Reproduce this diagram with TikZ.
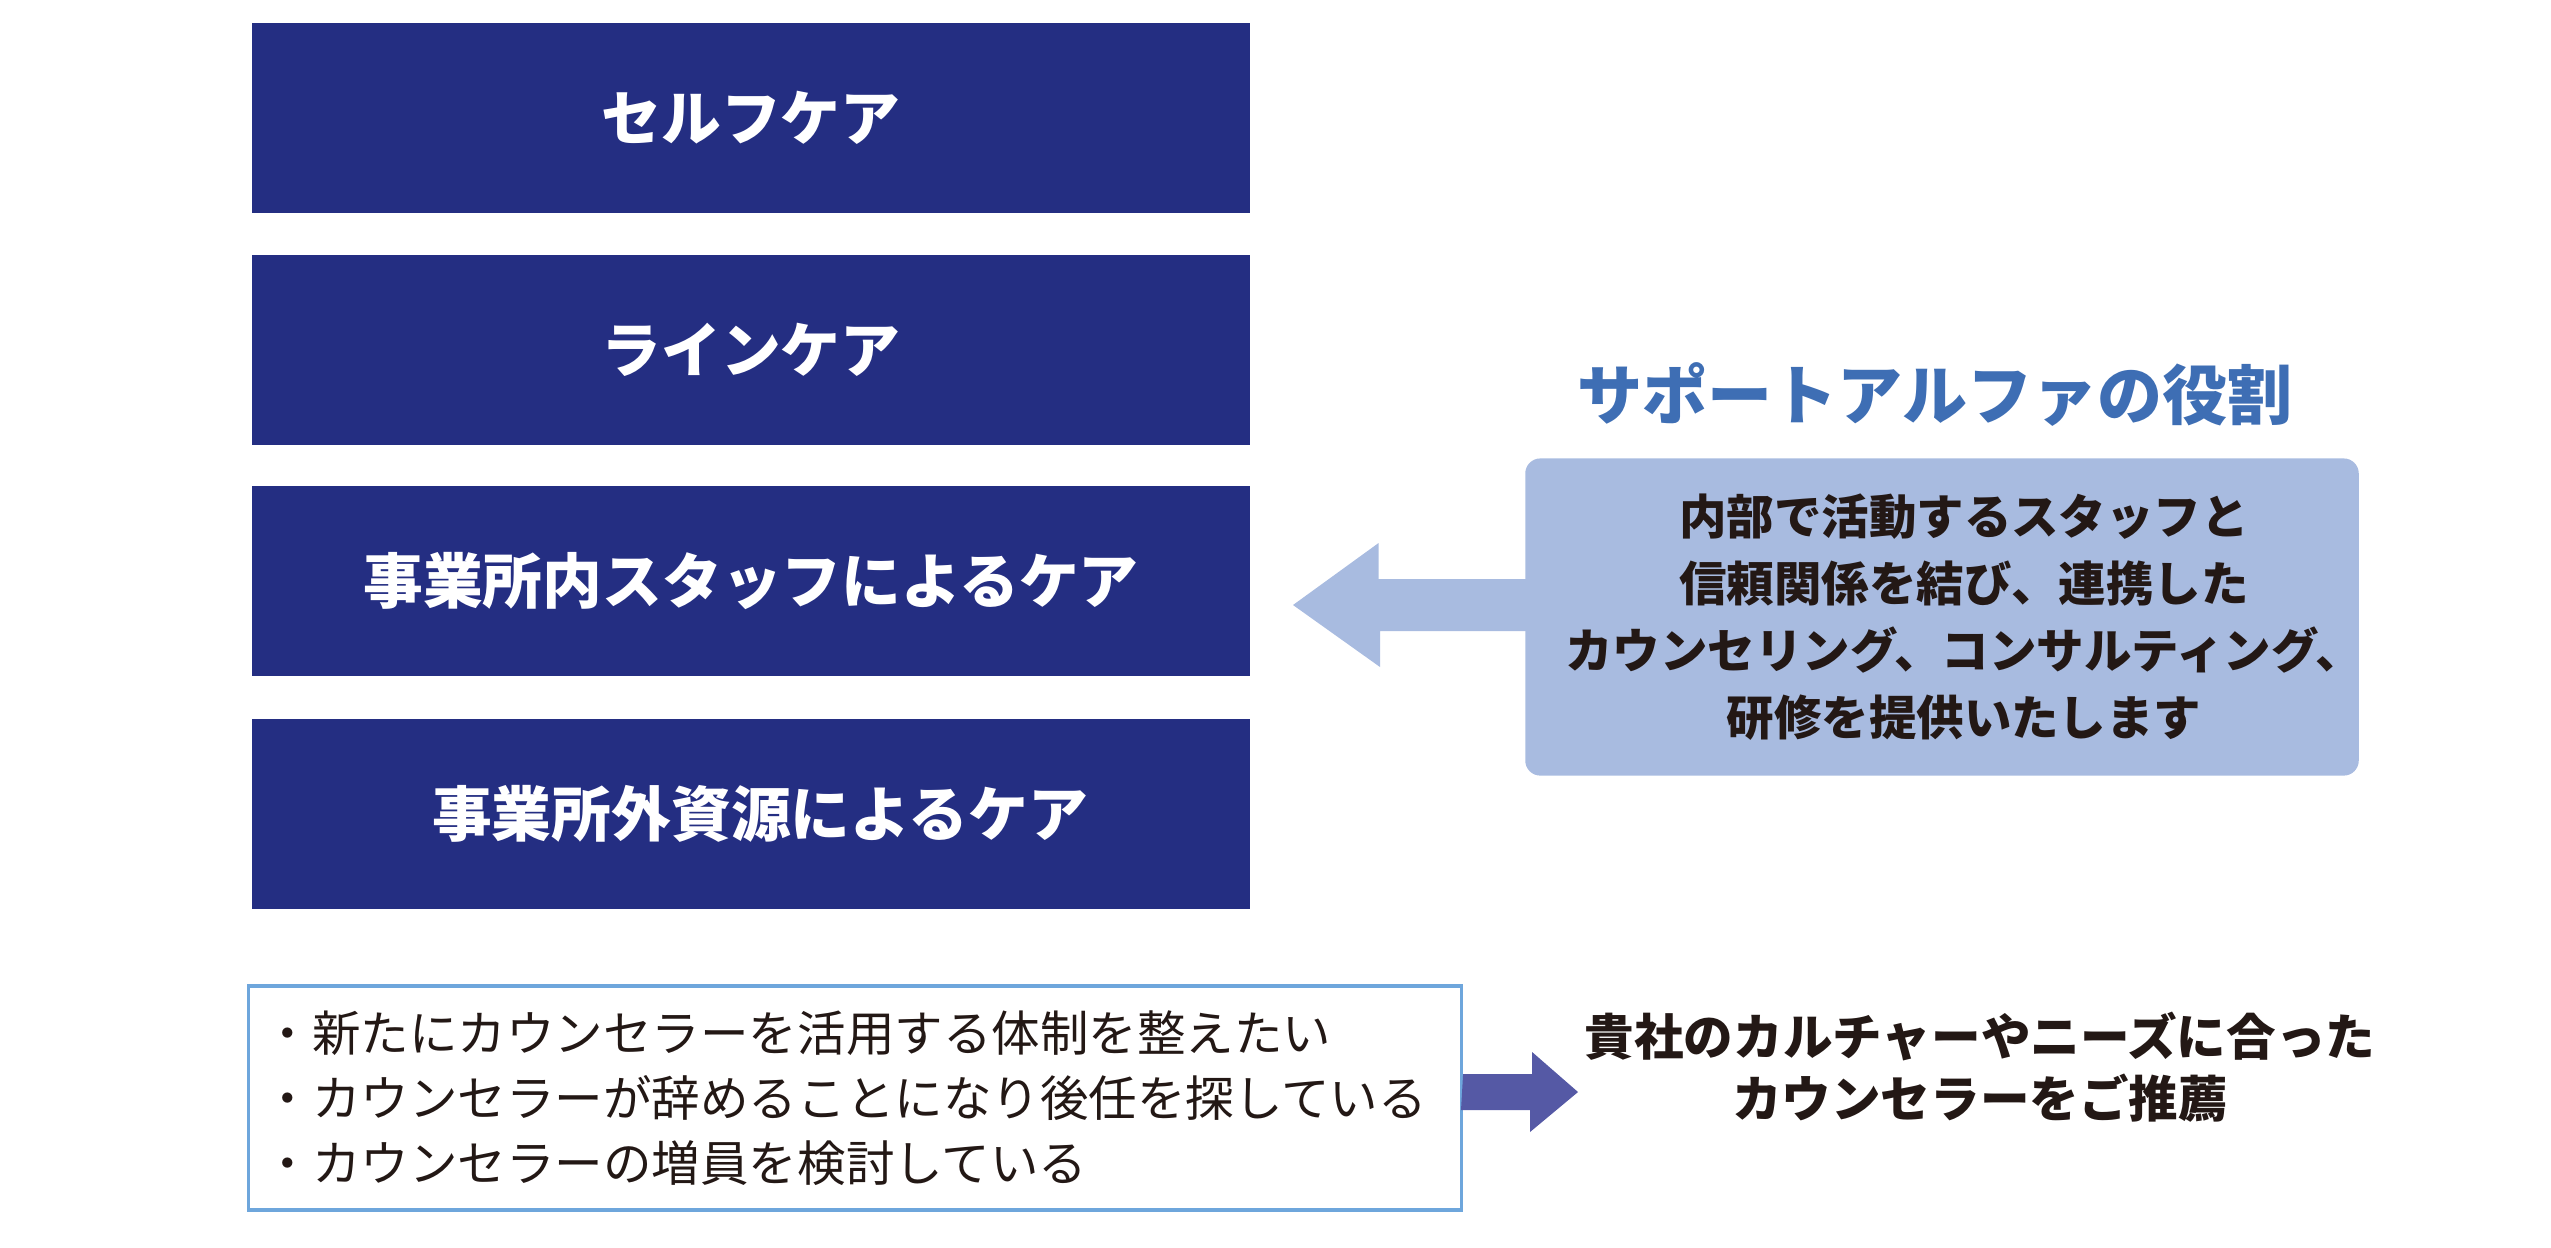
\documentclass[tikz,border=0pt]{standalone}
\usepackage{fontspec}
\newfontfamily\jp{Noto Sans CJK JP}
\usetikzlibrary{calc}
\definecolor{marine}{HTML}{242E82}
\definecolor{bleutitre}{HTML}{3E6EB4}
\definecolor{bleuclair}{HTML}{A8BBE0}
\definecolor{bleucadre}{HTML}{6EA6DC}
\definecolor{violet}{HTML}{5559A5}
\definecolor{encre}{HTML}{231815}
\begin{document}
\begin{tikzpicture}[x=0.01cm,y=-0.01cm,
    soin/.style={fill=marine,text=white,inner sep=0pt,
      minimum width=9.98cm,minimum height=1.89cm,
      font=\jp\bfseries\fontsize{17}{20}\selectfont}]
      \useasboundingbox (0,0) rectangle (2551,1247);
      % les quatre soins
      \node[soin] (self) at (751,118) {セルフケア};
      \node[soin] (ligne) at (751,350) {ラインケア};
      \node[soin] (interne) at (751,581) {事業所内スタッフによるケア};
      \node[soin] (externe) at (751,814) {\hspace{0.18cm}事業所外資源によるケア};
      % le rôle
      \node[text=bleutitre,font=\jp\bfseries\fontsize{18.5}{22}\selectfont]
        (titre) at (1935,394) {サポートアルファの役割};
      \node[fill=bleuclair,rounded corners=0.15cm,inner sep=0pt,
        minimum width=8.33cm,minimum height=3.17cm] (role) at (1942,617) {};
      \node[align=center,text=encre,inner sep=0pt,
        font=\jp\bfseries\fontsize{13.5}{19}\selectfont]
        (roletexte) at ($(role)+(22,0)$) {内部で活動するスタッフと\\信頼関係を結び、連携した\\
        カウンセリング、コンサルティング、\\研修を提供いたします};
      \coordinate (pointe) at (1293,605); % bout de la flèche
      \fill[bleuclair] ($(role.west|-pointe)+(5,-26)$) -- ++(-151,0) -- ++(0,-36)
        -- (pointe) -- ++(87,62) -- ++(0,-36) -- ++(151,0) -- cycle;
      % les besoins
      \node[draw=bleucadre,line width=1pt,inner xsep=0.15cm,inner ysep=0pt,
        text width=11.82cm,minimum height=2.24cm,align=left,text=encre,
        font=\jp\fontsize{13.8}{18.5}\selectfont]
        (besoins) at (855,1098) {・新たにカウンセラーを活用する体制を整えたい\\
        ・カウンセラーが辞めることになり後任を探している\\
        ・カウンセラーの増員を検討している};
      \node[align=center,text=encre,font=\jp\bfseries\fontsize{14.1}{17.6}\selectfont]
        (reco) at (1980,1067) {貴社のカルチャーやニーズに合った\\カウンセラーをご推薦};
      \coordinate (pointe2) at (1578,1092);
      \fill[violet] ($(besoins.east|-pointe2)+(0,-18)$) -- ++(69,0) -- ++(0,-22)
        -- (pointe2) -- ++(-48,40) -- ++(0,-22) -- ++(-69,0) -- cycle;
    \end{tikzpicture}
\end{document}
